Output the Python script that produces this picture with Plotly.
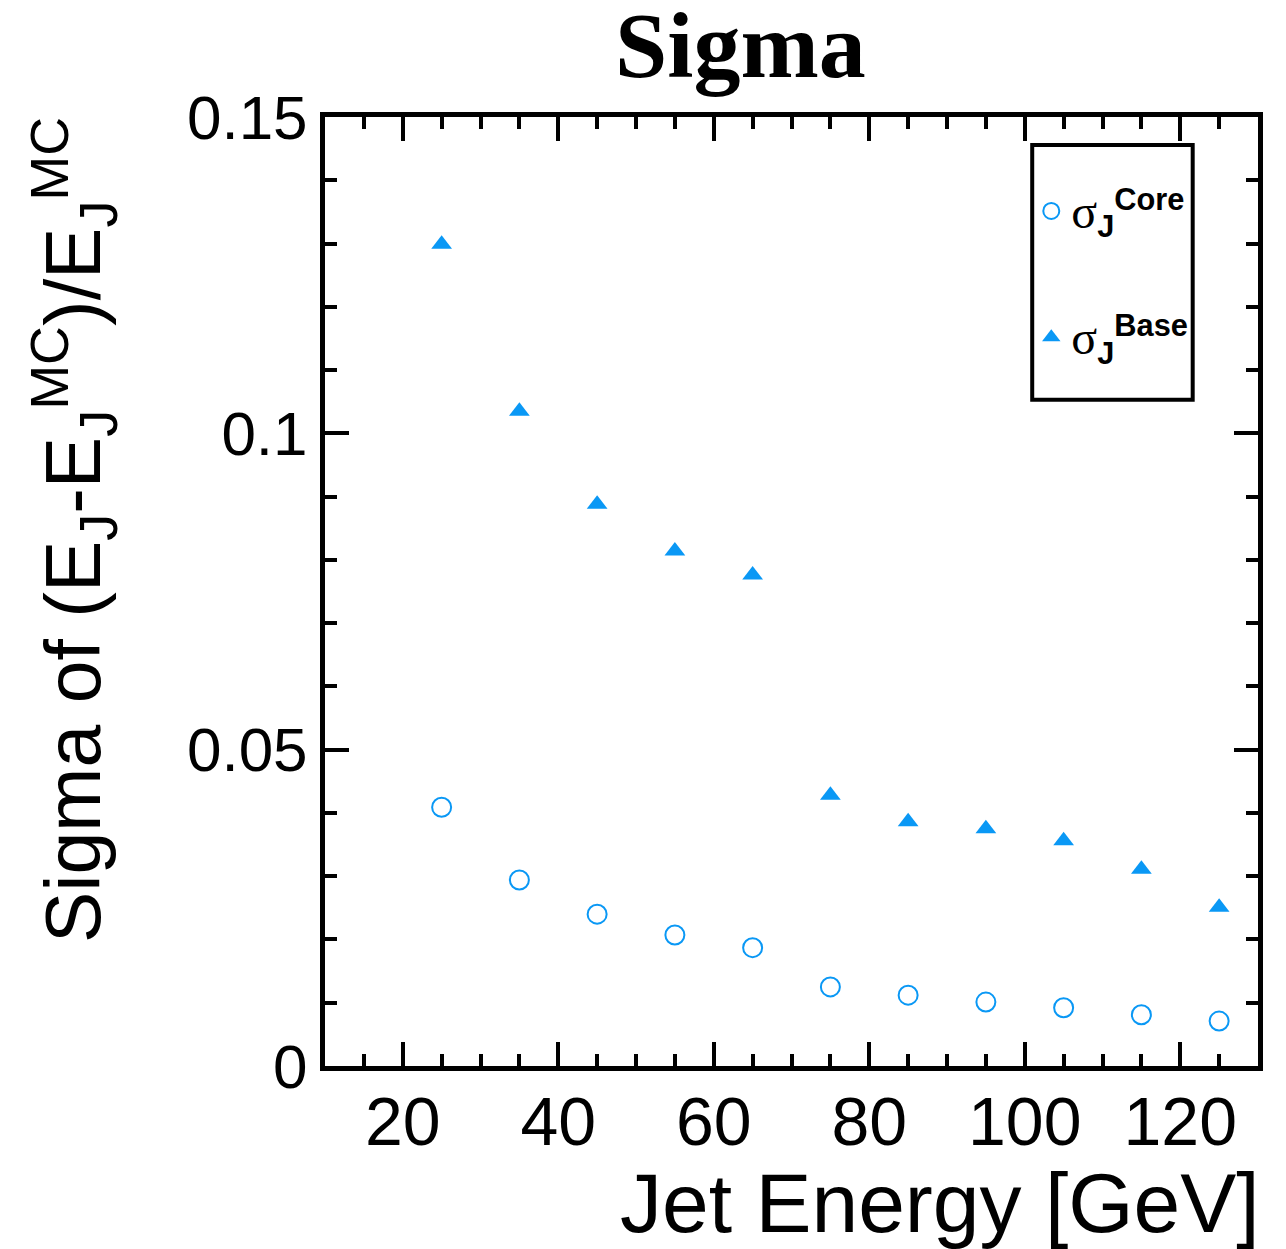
import plotly.graph_objects as go

energy = [25, 35, 45, 55, 65, 75, 85, 95, 105, 115, 125]
sigma_core = [0.0409, 0.0294, 0.0240, 0.0207, 0.0187, 0.0125, 0.0112, 0.0101, 0.0092, 0.0081, 0.0071]
sigma_base = [0.1299, 0.1035, 0.0888, 0.0814, 0.0776, 0.0428, 0.0386, 0.0375, 0.0356, 0.0311, 0.0251]

blue = "#0a98f5"
serif = "Liberation Serif"
sans = "Liberation Sans"

def leg(name):
    return ('<span style="font-family:Liberation Serif;font-size:48px">σ</span>'
            '<sub><b>J</b></sub><sup><b>' + name + '</b></sup>')

fig = go.Figure()
fig.add_trace(go.Scatter(x=energy, y=sigma_core, mode="markers", name=leg("Core"),
                         legendgroup="a",
                         marker=dict(symbol="circle-open", size=19, color=blue, line=dict(width=2, color=blue))))
fig.add_trace(go.Scatter(x=energy, y=sigma_base, mode="markers", name=leg("Base"),
                         legendgroup="b",
                         marker=dict(symbol="triangle-up", size=18, color=blue)))

axis_common = dict(showgrid=False, zeroline=False, showline=True, linewidth=5, linecolor="black",
                   mirror="allticks", ticks="inside", tickwidth=4, tickcolor="black", ticklen=24)

fig.update_xaxes(range=[10, 130], tickvals=[20, 40, 60, 80, 100, 120],
                 tickfont=dict(family=sans, size=68, color="black"),
                 ticklabelstandoff=-8,
                 minor=dict(dtick=5, tick0=0, ticks="inside", ticklen=12, tickwidth=4, tickcolor="black"),
                 **axis_common)
fig.update_yaxes(range=[0, 0.15], tickvals=[0, 0.05, 0.1, 0.15], ticktext=["0", "0.05", "0.1", "0.15"],
                 tickfont=dict(family=sans, size=62, color="black"),
                 minor=dict(dtick=0.01, tick0=0, ticks="inside", ticklen=12, tickwidth=4, tickcolor="black"),
                 **axis_common)

fig.add_shape(type="rect", xref="paper", yref="paper", x0=0.758, x1=0.930, y0=0.702, y1=0.9705,
              line=dict(color="black", width=4), fillcolor="rgba(0,0,0,0)")

fig.add_annotation(text="<b>Sigma</b>", xref="paper", yref="paper", x=0.445, y=1.0, yshift=18,
                   xanchor="center", yanchor="bottom", showarrow=False,
                   font=dict(family=serif, size=94, color="black"))
fig.add_annotation(text="Jet Energy [GeV]", xref="paper", yref="paper", x=1.0, y=0, yshift=-88, xshift=4,
                   xanchor="right", yanchor="top", showarrow=False,
                   font=dict(family=sans, size=84, color="black"))
fig.add_annotation(text="Sigma of (E<sub>J</sub>-E<sub>J</sub><sup>MC</sup>)/E<sub>J</sub><sup>MC</sup>",
                   xref="paper", yref="paper", x=0, xshift=-252, y=1.0, yshift=2,
                   xanchor="center", yanchor="top", textangle=-90, showarrow=False,
                   font=dict(family=sans, size=77, color="black"))

fig.update_layout(
    width=1286, height=1249,
    margin=dict(l=325, r=28, t=117, b=183),
    paper_bgcolor="white", plot_bgcolor="white",
    showlegend=True,
    legend=dict(x=0.757, y=0.938, xanchor="left", yanchor="top", bgcolor="rgba(0,0,0,0)",
                font=dict(family=sans, size=44, color="black"), tracegroupgap=66,
                traceorder="grouped", itemwidth=30),
)

fig.write_html("out.html")
